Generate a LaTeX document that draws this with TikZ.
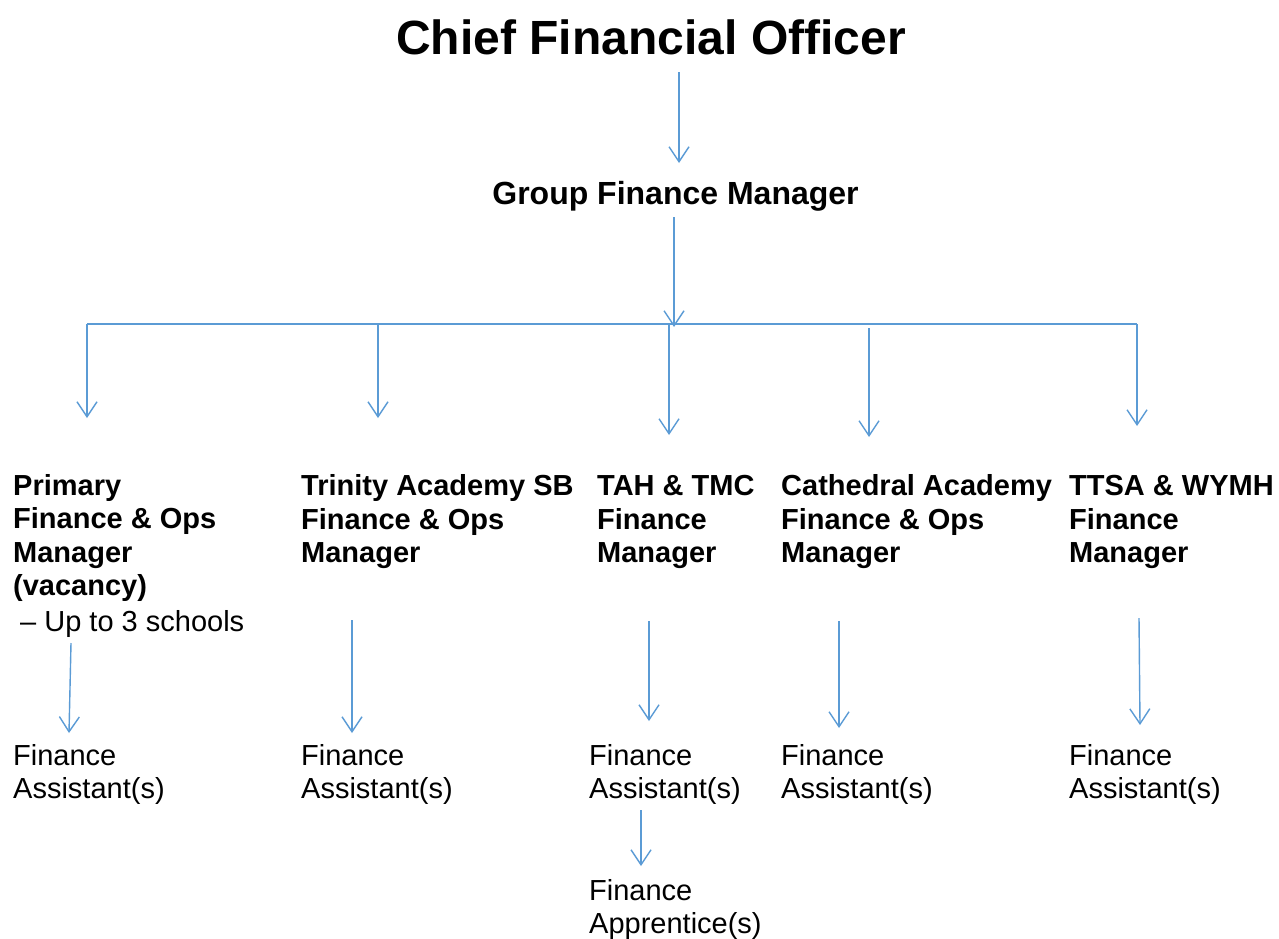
\documentclass[tikz,border=0pt]{standalone}
\usepackage{fontspec}
\setmainfont{Liberation Sans}
\usetikzlibrary{arrows.meta}
\definecolor{conn}{HTML}{5B9BD5}
\begin{document}
\begin{tikzpicture}[x=1pt,y=-1pt,
 arr/.style={draw=conn,line width=1.4pt,-{Straight Barb[length=15pt,width=20pt]}},
 busline/.style={draw=conn,line width=1.6pt},
 lab/.style={anchor=base west,inner sep=0pt,align=left,font=\fontsize{29}{33.5}\selectfont\bfseries},
 subl/.style={anchor=base west,inner sep=0pt,align=left,font=\fontsize{29}{33}\selectfont},
]
\useasboundingbox (0,0) rectangle (1279,938);
% titles
\node[anchor=base,inner sep=0pt,font=\fontsize{48}{56}\selectfont\bfseries] (cfo) at (651,54) {Chief Financial Officer};
\node[anchor=base,inner sep=0pt,font=\fontsize{32}{38}\selectfont\bfseries] (gfm) at (675.5,204) {Group Finance Manager};
% managers (anchor = baseline of last line)
\node[lab] (m1) at (13,631) {Primary\\Finance \& Ops\\Manager\\(vacancy)\\[2pt]\mdseries\hspace*{7pt}– Up to 3 schools};
\node[lab] (m2) at (301,562.5) {Trinity Academy SB\\Finance \& Ops\\Manager};
\node[lab] (m3) at (597,562.5) {TAH \& TMC\\Finance\\Manager};
\node[lab] (m4) at (781,562.5) {Cathedral Academy\\Finance \& Ops\\Manager};
\node[lab] (m5) at (1069,562.5) {TTSA \& WYMH\\Finance\\Manager};
% assistants
\node[subl] (a1) at (13,798) {Finance\\Assistant(s)};
\node[subl] (a2) at (301,798) {Finance\\Assistant(s)};
\node[subl] (a3) at (589,798) {Finance\\Assistant(s)};
\node[subl] (a4) at (781,798) {Finance\\Assistant(s)};
\node[subl] (a5) at (1069,798) {Finance\\Assistant(s)};
\node[subl] (ap) at (589,933) {Finance\\Apprentice(s)};
% connector coordinates
\coordinate (cfoS) at (679,72);
\coordinate (gfmN) at (679,163);
\coordinate (gfmS) at (674,217);
\coordinate (busM) at (674,327);
\coordinate (bus1) at (87,324);
\coordinate (bus2) at (378,324);
\coordinate (bus3) at (669,324);
\coordinate (bus4) at (869,328);
\coordinate (bus5) at (1137,324);
\coordinate (m1N) at (87,418);
\coordinate (m2N) at (378,418);
\coordinate (m3N) at (669,435);
\coordinate (m4N) at (869,437);
\coordinate (m5N) at (1137,426);
\coordinate (m1S) at (71,643);
\coordinate (m2S) at (352,620);
\coordinate (m3S) at (649,621);
\coordinate (m4S) at (839,621);
\coordinate (m5S) at (1139,618);
\coordinate (a1N) at (69,733);
\coordinate (a2N) at (352,733);
\coordinate (a3N) at (649,721);
\coordinate (a4N) at (839,728);
\coordinate (a5N) at (1140,725);
\coordinate (a3S) at (641,810);
\coordinate (apN) at (641,866);
% connectors
\draw[arr] (cfoS) -- (gfmN);
\draw[arr] (gfmS) -- (busM);
\draw[busline] (bus1) -- (bus5);
\draw[arr] (bus1) -- (m1N);
\draw[arr] (bus2) -- (m2N);
\draw[arr] (bus3) -- (m3N);
\draw[arr] (bus4) -- (m4N);
\draw[arr] (bus5) -- (m5N);
\draw[arr] (m1S) -- (a1N);
\draw[arr] (m2S) -- (a2N);
\draw[arr] (m3S) -- (a3N);
\draw[arr] (m4S) -- (a4N);
\draw[arr] (m5S) -- (a5N);
\draw[arr] (a3S) -- (apN);
\end{tikzpicture}
\end{document}
